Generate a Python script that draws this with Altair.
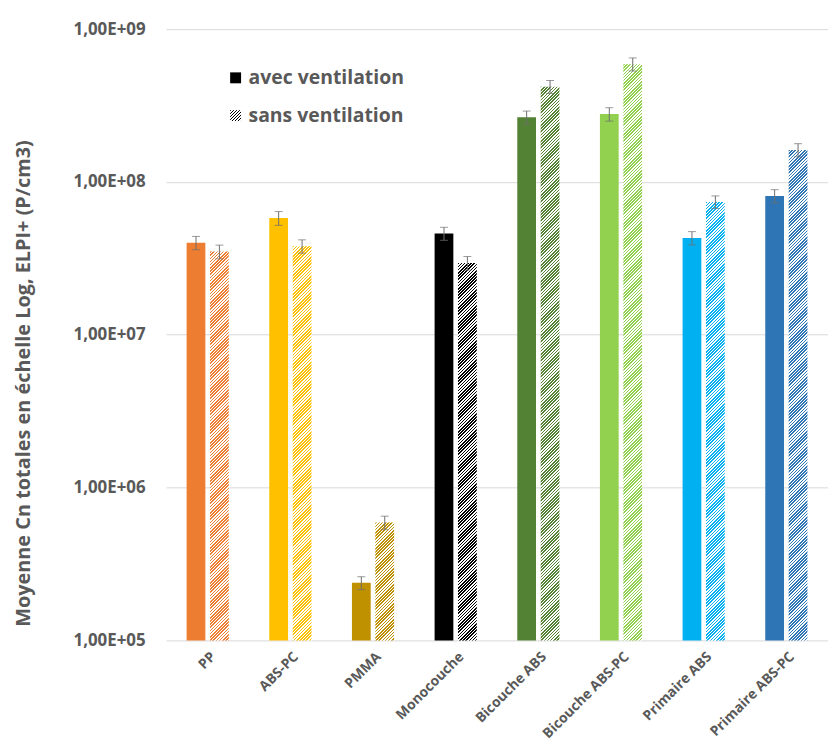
import altair as alt
import pandas as pd
import math

categories = ["PP", "ABS-PC", "PMMA", "Monocouche", "Bicouche ABS",
              "Bicouche ABS-PC", "Primaire ABS", "Primaire ABS-PC"]
colors = ["#ED7D31", "#FFC000", "#BF9000", "#000000", "#548235",
          "#92D050", "#00B0F0", "#2E75B6"]
series = ["avec ventilation", "sans ventilation"]

avec = [4.0e7, 5.8e7, 2.38e5, 4.6e7, 2.65e8, 2.78e8, 4.3e7, 8.1e7]
sans = [3.5e7, 3.8e7, 5.9e5, 2.95e7, 4.2e8, 5.9e8, 7.4e7, 1.62e8]
err_avec = [4.0e6, 6.0e6, 2.3e4, 4.5e6, 2.6e7, 2.8e7, 4.3e6, 8.0e6]
err_sans = [3.6e6, 3.8e6, 6.0e4, 3.0e6, 4.1e7, 5.8e7, 7.0e6, 1.6e7]

rows = []
for i, c in enumerate(categories):
    for s, vals, errs in ((series[0], avec, err_avec), (series[1], sans, err_sans)):
        rows.append(dict(cat=c, serie=s, value=vals[i],
                         lo=vals[i] - errs[i], hi=vals[i] + errs[i]))
df = pd.DataFrame(rows)

# ---- layout constants ----
W, H = 666, 615
YMIN, YMAX = 1e5, 1e9
PI_X, PO_X = 0.49, 0.249
PI_O, PO_O = 0.2, 0.0
step_x = W / (len(categories) - PI_X + 2 * PO_X)
band_x = step_x * (1 - PI_X)
step_o = band_x / (2 - PI_O + 2 * PO_O)
bar_w = step_o * (1 - PI_O)

FONT = "Open Sans"
GREY = "#595959"
YTITLE = "Moyenne Cn totales en échelle Log, ELPI+ (P/cm3)"


def hatch(color, w, h, period=3.2, frac=0.5):
    """Diagonal '/' stripes as a bounding-box linear gradient."""
    r = h / w
    k = 1.0 / (w * (1 + r * r))
    tmax = (w + h) * k
    d = period * k
    stops = []
    i = 0
    while i * d <= min(tmax, 1.0):
        a, b, c = i * d, i * d + frac * d, (i + 1) * d
        for off, col in ((a, color), (b, color), (b, "white"), (c, "white")):
            stops.append({"offset": min(off, 1.0), "color": col})
        i += 1
    return {"gradient": "linear", "x1": 0, "y1": 0, "x2": 1, "y2": r, "stops": stops}


def px_height(v):
    return H * (math.log10(v) - math.log10(YMIN)) / (math.log10(YMAX) - math.log10(YMIN))


x = alt.X("cat:N", title=None,
          scale=alt.Scale(domain=categories, paddingInner=PI_X, paddingOuter=PO_X),
          axis=alt.Axis(labelAngle=-45, labelAlign="right", labelBaseline="middle",
                        labelFont=FONT, labelFontWeight="bold", labelFontSize=14,
                        labelColor=GREY, labelPadding=14, labelOffset=6, ticks=False,
                        domain=False, grid=False))
xo = alt.XOffset("serie:N", scale=alt.Scale(domain=series, paddingInner=PI_O, paddingOuter=PO_O))
yscale = alt.Scale(type="log", domain=[YMIN, YMAX])
yaxis = alt.Axis(values=[1e5, 1e6, 1e7, 1e8, 1e9],
                 labelExpr="'1,00E+' + (datum.value < 1e10 ? '0' : '') + format(log(datum.value)/LN10, '.0f')",
                 labelFont=FONT, labelFontWeight="bold", labelFontSize=17,
                 labelColor=GREY, labelPadding=21, ticks=False, domain=False,
                 grid=True, gridColor="#d9d9d9", gridWidth=1,
                 titleFont=FONT, titleFontWeight="bold", titleFontSize=20,
                 titleColor=GREY, titlePadding=40, titleY=356)

solid_df = df[df.serie == series[0]]
bars_solid = alt.Chart(solid_df).mark_bar().encode(
    x=x, xOffset=xo,
    y=alt.Y("value:Q", scale=yscale, axis=yaxis, title=YTITLE),
    y2=alt.datum(YMIN),
    color=alt.Color("cat:N", scale=alt.Scale(domain=categories, range=colors), legend=None),
)

hatched_layers = []
for i, c in enumerate(categories):
    sub = df[(df.serie == series[1]) & (df.cat == c)]
    hatched_layers.append(
        alt.Chart(sub).mark_bar(fill=hatch(colors[i], bar_w, px_height(sans[i]))).encode(
            x=x, xOffset=xo,
            y=alt.Y("value:Q", scale=yscale, axis=yaxis, title=YTITLE),
            y2=alt.datum(YMIN),
        )
    )

base = alt.Chart(df)
rules = base.mark_rule(color="#6f6f6f", strokeWidth=1).encode(
    x=x, xOffset=xo,
    y=alt.Y("lo:Q", scale=yscale, axis=yaxis, title=YTITLE),
    y2="hi:Q",
)
tick_lo = base.mark_tick(color="#6f6f6f", thickness=1, size=8).encode(
    x=x, xOffset=xo, y=alt.Y("lo:Q", scale=yscale, axis=yaxis, title=YTITLE))
tick_hi = base.mark_tick(color="#6f6f6f", thickness=1, size=8).encode(
    x=x, xOffset=xo, y=alt.Y("hi:Q", scale=yscale, axis=yaxis, title=YTITLE))

# ---- legend (drawn as marks) ----
leg1 = pd.DataFrame({"label": [series[0]]})
leg2 = pd.DataFrame({"label": [series[1]]})
LX, LY1, LY2, SQ = 70, 49, 87, 11
legend_layers = [
    alt.Chart(leg1).mark_square(size=SQ * SQ, color="black", opacity=1).encode(
        x=alt.value(LX), y=alt.value(LY1)),
    alt.Chart(leg2).mark_square(size=SQ * SQ, fill=hatch("black", SQ, SQ, period=3.0), opacity=1).encode(
        x=alt.value(LX), y=alt.value(LY2)),
    alt.Chart(leg1).mark_text(align="left", baseline="middle", font=FONT, fontWeight="bold",
                              fontSize=19.5, color=GREY).encode(
        x=alt.value(LX + 13), y=alt.value(LY1), text="label:N"),
    alt.Chart(leg2).mark_text(align="left", baseline="middle", font=FONT, fontWeight="bold",
                              fontSize=19.5, color=GREY).encode(
        x=alt.value(LX + 13), y=alt.value(LY2), text="label:N"),
]

chart = alt.layer(bars_solid, *hatched_layers, rules, tick_lo, tick_hi, *legend_layers).properties(
    width=W, height=H,
    background="white",
    padding={"left": 5, "right": 0, "top": 10, "bottom": 5},
).configure_view(strokeWidth=0).configure_axis(domain=False)

chart.save("out.html", embed_options={"renderer": "svg", "actions": False})
